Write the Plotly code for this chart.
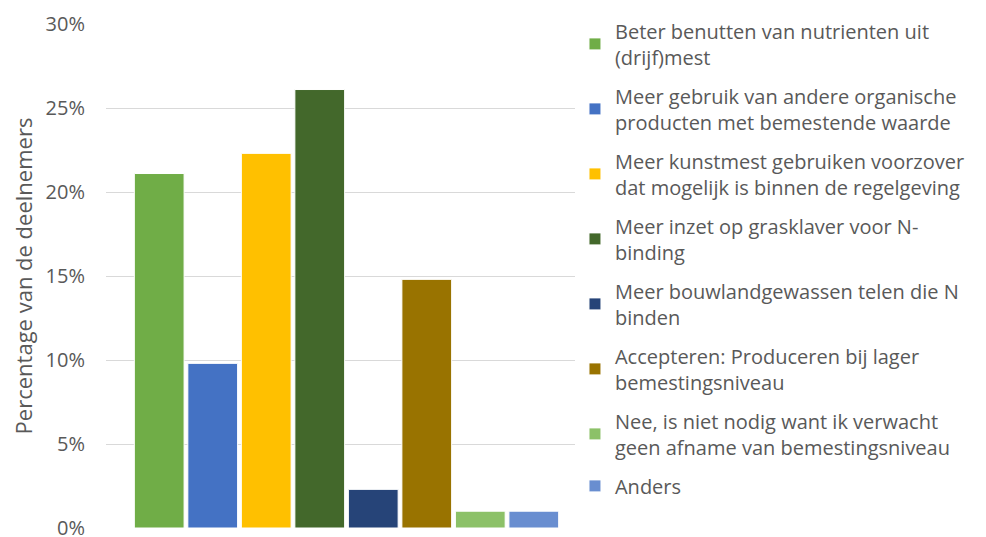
import plotly.graph_objects as go

categories = [
    "Beter benutten van nutrienten uit<br>(drijf)mest",
    "Meer gebruik van andere organische<br>producten met bemestende waarde",
    "Meer kunstmest gebruiken voorzover<br>dat mogelijk is binnen de regelgeving",
    "Meer inzet op grasklaver voor N-<br>binding",
    "Meer bouwlandgewassen telen die N<br>binden",
    "Accepteren: Produceren bij lager<br>bemestingsniveau",
    "Nee, is niet nodig want ik verwacht<br>geen afname van bemestingsniveau",
    "Anders",
]
values = [21.1, 9.8, 22.3, 26.1, 2.3, 14.8, 1.0, 1.0]
colors = ["#70AD47", "#4472C4", "#FFC000", "#43682B", "#264478", "#997300", "#8CC168", "#698ED0"]
tick_vals = [0, 0.05, 0.10, 0.15, 0.20, 0.25, 0.30]

fig = go.Figure()
for i, (name, v, c) in enumerate(zip(categories, values, colors)):
    fig.add_trace(go.Bar(
        x=[0], y=[v / 100], name=name,
        marker=dict(color=c, line=dict(color="#FFFFFF", width=1)),
        legendgroup=f"g{i}",
    ))

font = "Open Sans, Noto Sans, sans-serif"
fig.update_layout(
    width=978, height=529,
    margin=dict(l=98, r=399, t=16, b=9, autoexpand=False),
    barmode="group", bargap=0.11, bargroupgap=0.07,
    plot_bgcolor="white", paper_bgcolor="white",
    font=dict(family=font, size=20, color="#595959"),
    showlegend=True,
    legend=dict(x=0.975, y=1.025, xanchor="left", yanchor="top",
                font=dict(size=20, color="#595959"),
                tracegroupgap=10, itemwidth=30, maxheight=1.0),
    xaxis=dict(range=[-0.5, 0.5], showticklabels=False, showgrid=False,
               zeroline=False, showline=False, ticks=""),
    yaxis=dict(range=[0, 0.30], tickvals=tick_vals, tickformat=".0%",
               showgrid=True, gridcolor="#D9D9D9", gridwidth=1,
               zeroline=False, showline=False, ticks="", ticklen=0,
               automargin=True, ticklabelstandoff=20,
               ticklabeloverflow="allow",
               title=dict(text="Percentage van de deelnemers", standoff=6,
                          font=dict(size=22, color="#595959")),
               tickfont=dict(size=20, color="#595959")),
)

fig.write_html("out.html")
